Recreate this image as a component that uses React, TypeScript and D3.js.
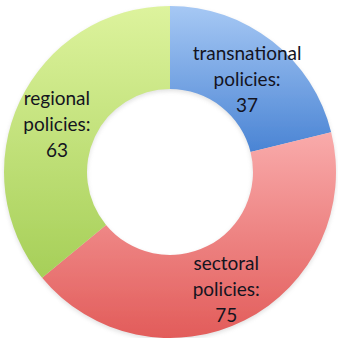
import React from "react";
import * as d3 from "d3";

const categories = ["transnational", "sectoral", "regional"];
const values = [37, 75, 63];
const lightColors = ["#a6c8f4", "#f9abab", "#ddf39d"];
const darkColors = ["#4a84d4", "#e25c5a", "#a6cf58"];

const W = 338;
const H = 338;
const cx = 170;
const cy = 172;
const outerR = 166;
const innerR = 83;

export default function App() {
  const pie = d3.pie<number>().sort(null).value((d) => d);
  const arcs = pie(values);
  const arc = d3.arc<d3.PieArcDatum<number>>().innerRadius(innerR).outerRadius(outerR);
  const labelArc = d3.arc<d3.PieArcDatum<number>>().innerRadius(125).outerRadius(125);
  const lineH = 26;
  return (
    <svg width={W} height={H} style={{ position: "absolute", left: 0, top: 0 }}>
      <defs>
        {categories.map((c, i) => (
          <linearGradient key={c} id={`g${i}`} x1="0" y1="0" x2="0" y2="1">
            <stop offset="0%" stopColor={lightColors[i]} />
            <stop offset="100%" stopColor={darkColors[i]} />
          </linearGradient>
        ))}
        <filter id="blur" x="-10%" y="-10%" width="120%" height="120%">
          <feGaussianBlur stdDeviation="0.7" />
        </filter>
        <filter id="shadow" x="-10%" y="-10%" width="120%" height="120%">
          <feGaussianBlur stdDeviation="2" />
        </filter>
      </defs>
      <rect width={W} height={H} fill="#fff" />
      <g transform={`translate(${cx},${cy + 2})`} filter="url(#shadow)" opacity={0.25}>
        {arcs.map((a, i) => (
          <path key={categories[i]} d={arc(a) || ""} fill="#888" />
        ))}
      </g>
      <g transform={`translate(${cx},${cy})`} filter="url(#blur)">
        {arcs.map((a, i) => (
          <path key={categories[i]} d={arc(a) || ""} fill={`url(#g${i})`} />
        ))}
      </g>
      <g transform={`translate(${cx},${cy})`}>
        {arcs.map((a, i) => {
          const [x, y] = labelArc.centroid(a);
          const lines = [categories[i], "policies:", String(values[i])];
          return (
            <text key={categories[i]} x={x} y={y + 6} textAnchor="middle" fontFamily="Lato, sans-serif" fontSize={19} fill="#14141f">
              {lines.map((l, j) => (
                <tspan key={j} x={x} y={y + 6 + (j - 1) * lineH} dy="0.35em">
                  {l}
                </tspan>
              ))}
            </text>
          );
        })}
      </g>
    </svg>
  );
}
